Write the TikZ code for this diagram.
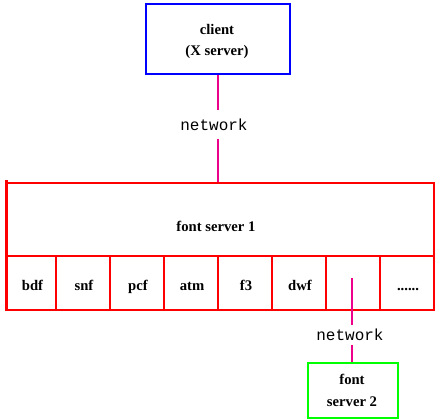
\documentclass[tikz,border=0pt]{standalone}
\usepackage{fontspec}
\setmainfont{Liberation Serif}
\newfontfamily\monof{Liberation Mono}
\begin{document}
\begin{tikzpicture}[x=0.75pt,y=-0.75pt,
  box/.style={draw,line width=1.5pt,inner sep=0pt,anchor=north west},
  lbl/.style={font=\fontsize{11}{13}\selectfont\bfseries,inner sep=0pt,anchor=base},
  netlbl/.style={font=\monof\fontsize{12}{14}\selectfont,inner sep=0pt,minimum width=60pt},
  link/.style={draw=magenta,line width=1.5pt}]
\useasboundingbox (0,0) rectangle (436,420);
% client
\node[box,draw=blue,minimum width=108pt,minimum height=52.5pt] (client) at (145,3) {};
\node[lbl] (cl1) at (217,35) {client};
\node[lbl] (cl2) at (217,55.5) {(X server)};
% network 1
\node[netlbl,minimum height=21pt] (net1) at (214,124.5) {network};
% font server 1
\node[box,draw=red,minimum width=320.25pt,minimum height=54.75pt] (fs1) at (6,182) {};
\node[lbl] (fs1t) at (216,232) {font server 1};
\foreach \i/\a/\b/\t in {1/6/55/bdf,2/55/109/snf,3/109/163/pcf,4/163/217/atm,5/217/271/f3,6/271/325/dwf,7/325/379/{},8/379/433/{......}}{
  \pgfmathsetmacro\w{(\b-\a)*0.75}
  \node[box,draw=red,minimum width=\w pt,minimum height=40.5pt] (c\i) at (\a,255) {};
  \node[lbl] (t\i) at ({(\a+\b)/2+2},290.5) {\t};
}
\draw[red,line width=2.25pt] (fs1.north west) ++(0,-2) -- (c1.south west);
% network 2
\coordinate (tap) at (352,278);
\node[netlbl,minimum height=15pt] (net2) at (350,335) {network};
% font server 2
\node[box,draw=green,minimum width=67.5pt,minimum height=41.25pt] (fs2) at (307,362) {};
\node[lbl] (f2a) at (352,385) {font};
\node[lbl] (f2b) at (352,407) {server 2};
% connectors
\draw[link] (client.south) -- (net1.north -| client.south);
\draw[link] (net1.south -| client.south) -- (fs1.north -| client.south);
\draw[link] (tap) -- (net2.north -| tap);
\draw[link] (net2.south -| tap) -- (fs2.north -| tap);
\end{tikzpicture}
\end{document}
